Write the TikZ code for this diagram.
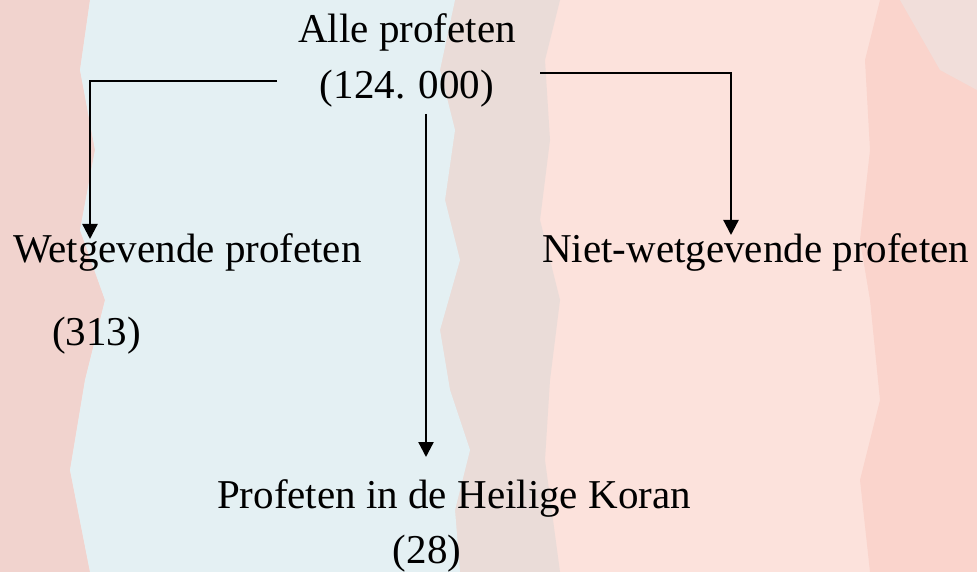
\documentclass[tikz,border=0pt]{standalone}
\usepackage{fontspec}
\setmainfont{Liberation Serif}
\usetikzlibrary{arrows.meta}
\definecolor{bgpink}{HTML}{FCE2DC}
\definecolor{bgsalmon}{HTML}{FAD4CC}
\definecolor{bgleft}{HTML}{F1D3CE}
\definecolor{bgblue}{HTML}{E4F0F3}
\definecolor{bggrey}{HTML}{EADCD8}
\tikzset{
  lbl/.style={inner sep=0pt, font=\fontsize{41}{49}\selectfont, text=black},
  conn/.style={line width=2.3pt, draw=black},
  arr/.style={conn, -{Triangle[length=15pt,width=15pt]}}
}
\begin{document}
\begin{tikzpicture}[x=1pt,y=-1pt]
\useasboundingbox (0,0) rectangle (977,572);
% background
\fill[bgpink] (0,0) rectangle (977,572);
\fill[bgsalmon] (880,0) -- (977,0) -- (977,572) -- (870,572) -- (860,480) -- (880,400) -- (870,300) -- (860,240) -- (870,150) -- (865,60) -- cycle;
\fill[bggrey!60!bgpink] (900,0) -- (977,0) -- (977,90) -- (940,70) -- cycle;
\fill[bggrey] (380,0) -- (560,0) -- (545,60) -- (550,140) -- (540,220) -- (560,300) -- (550,380) -- (545,460) -- (560,572) -- (380,572) -- cycle;
\fill[bgleft] (0,0) -- (90,0) -- (80,70) -- (95,150) -- (80,230) -- (105,300) -- (85,380) -- (70,470) -- (90,572) -- (0,572) -- cycle;
\fill[bgblue] (90,0) -- (455,0) -- (440,70) -- (455,130) -- (445,200) -- (460,260) -- (440,330) -- (450,390) -- (470,450) -- (455,510) -- (460,572) -- (90,572) -- (70,470) -- (85,380) -- (105,300) -- (80,230) -- (95,150) -- (80,70) -- cycle;
% labels
\node[lbl, anchor=base] (alle) at (407,43) {Alle profeten};
\node[lbl, anchor=base] (tot) at (407,99) {(124. 000)};
\node[lbl, anchor=base west] (wet) at (13,262) {Wetgevende profeten};
\node[lbl, anchor=base west] (wetn) at (52,345) {(313)};
\node[lbl, anchor=base west] (niet) at (542,262) {Niet-wetgevende profeten};
\node[lbl, anchor=base] (koran) at (454,508) {Profeten in de Heilige Koran};
\node[lbl, anchor=base] (korann) at (427,563) {(28)};
% connector points
\coordinate (ls) at (277,81);
\coordinate (lc) at (90,81);
\coordinate (lt) at (90,239);
\coordinate (rs) at (540,73);
\coordinate (rc) at (731,73);
\coordinate (rt) at (731,235);
\coordinate (cs) at (426,114);
\coordinate (ct) at (426,457);
\draw[arr] (ls) -- (lc) -- (lt);
\draw[arr] (rs) -- (rc) -- (rt);
\draw[arr] (cs) -- (ct);
\end{tikzpicture}
\end{document}
